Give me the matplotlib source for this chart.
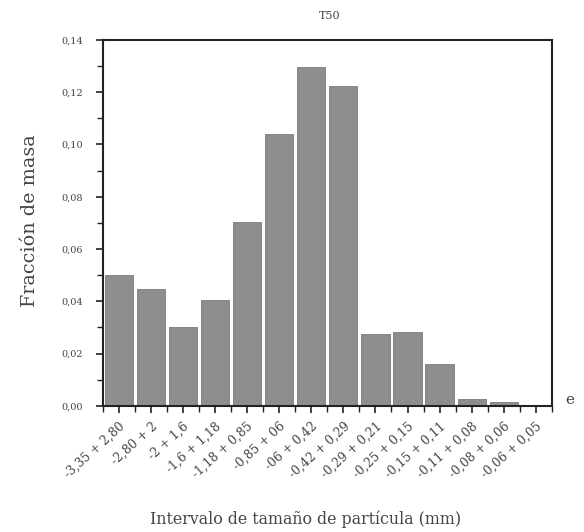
import matplotlib
matplotlib.use("Agg")
import matplotlib.pyplot as plt
import numpy as np
from matplotlib.ticker import MultipleLocator, FixedLocator

categories = ["-3,35 + 2,80", "-2,80 + 2", "-2 + 1,6", "-1,6 + 1,18", "-1,18 + 0,85",
              "-0,85 + 06", "-06 + 0,42", "-0,42 + 0,29", "-0,29 + 0,21", "-0,25 + 0,15",
              "-0,15 + 0,11", "-0,11 + 0,08", "-0,08 + 0,06", "-0,06 + 0,05"]
values = [0.050, 0.0448, 0.0303, 0.0407, 0.0704, 0.104, 0.1298, 0.1225,
          0.0274, 0.0284, 0.0162, 0.0025, 0.0014, 0.0002]
yticks = [0.00, 0.02, 0.04, 0.06, 0.08, 0.10, 0.12, 0.14]
ytick_labels = ["0,00", "0,02", "0,04", "0,06", "0,08", "0,10", "0,12", "0,14"]

plt.rcParams['font.family'] = ['DejaVu Serif']
fig = plt.figure(figsize=(5.84, 5.32), dpi=100)
ax = fig.add_axes([0.176, 0.237, 0.769, 0.688])

x = np.arange(len(categories))
ax.bar(x, values, width=0.88, color="#8e8e90", edgecolor="#7a7a7c", linewidth=0.6)

ax.set_xlim(-0.5, len(categories) - 0.5)
ax.set_ylim(0, 0.14)
ax.set_yticks(yticks)
ax.set_yticklabels(ytick_labels, fontsize=7, color="#444444")
ax.yaxis.set_minor_locator(MultipleLocator(0.01))
ax.set_xticks(x)
ax.set_xticklabels(categories, rotation=42, ha="right", rotation_mode="anchor",
                   fontsize=8.8, color="#444444")
ax.xaxis.set_minor_locator(FixedLocator(np.arange(-0.5, len(categories), 1.0)))
ax.tick_params(axis="both", which="major", direction="out", length=5, width=1.2, color="#222222")
ax.tick_params(axis="both", which="minor", direction="out", length=4, width=1.0, color="#222222")
ax.tick_params(axis="x", which="major", pad=5)
ax.tick_params(axis="y", which="major", pad=9)
for s in ax.spines.values():
    s.set_linewidth(1.5)
    s.set_color("#222222")

fig.text(0.565, 0.970, "T50", fontsize=8, color="#444444", ha="center", va="center")
fig.text(0.052, 0.585, "Fracción de masa", fontsize=13.8, color="#444444",
         ha="center", va="center", rotation=90)
fig.text(0.524, 0.024, "Intervalo de tamaño de partícula (mm)", fontsize=11.4,
         color="#444444", ha="center", va="center")
fig.text(0.975, 0.248, "e", fontsize=11, color="#444444", ha="center", va="center")

fig.savefig("out.png", dpi=100, facecolor="white")
